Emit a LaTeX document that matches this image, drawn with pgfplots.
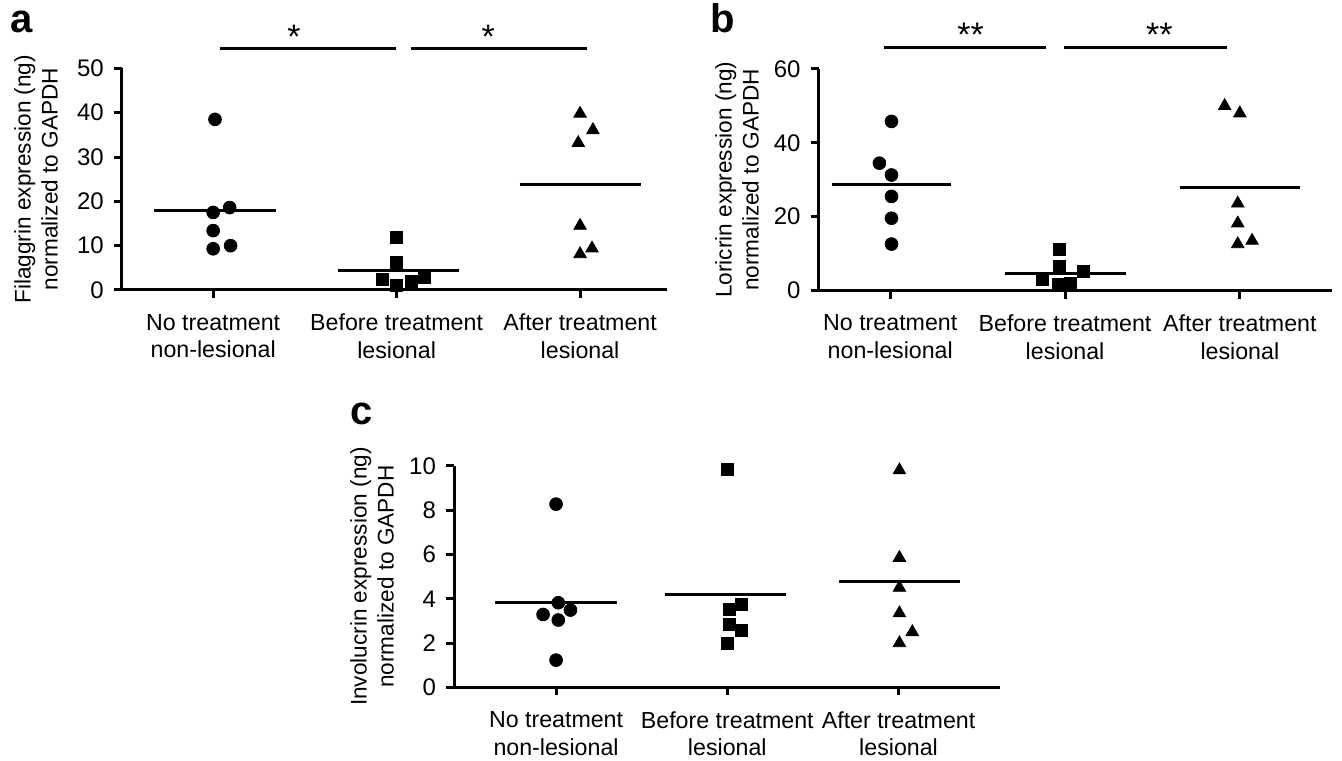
\documentclass[border=0pt]{standalone}
\usepackage{fontspec}
\setmainfont{Liberation Sans}
\usepackage{pgfplots}
\pgfplotsset{compat=1.18}

\pgfplotsset{
  panel/.style={
    scale only axis,
    height=110.8pt,
    axis x line=bottom, axis y line=left,
    axis line style={line width=1.5pt, -},
    x axis line style={shorten <=-3.5pt},
    tick style={line width=1.5pt, black},
    tick align=outside, major tick length=4pt,
    xtick={0,1,2},
    xticklabels={{No treatment\\non-lesional},{Before treatment\\lesional},{After treatment\\lesional}},
    xticklabel style={align=center, font=\fontsize{11.6}{13.8}\selectfont, yshift=-4.5pt},
    yticklabel style={font=\fontsize{12}{13}\selectfont, xshift=-1.5pt},
    ylabel style={align=center, font=\fontsize{11.3}{13.5}\selectfont, anchor=center},
    /pgf/number format/assume math mode=true,
    clip=false,
  },
  grp/.style={only marks, mark=#1, mark options={fill=black, draw=black}},
  mean/.style={line width=1.5pt, black, no marks},
}
\tikzset{sig/.style={anchor=base, inner sep=0, font=\fontsize{17}{17}\selectfont}}

\begin{document}
\begin{tikzpicture}
\path[use as bounding box] (0,0) rectangle (671pt,380pt);

% panel a
\node[anchor=base west, font=\fontsize{20}{20}\selectfont\bfseries, inner sep=0] at (5pt,363.5pt) {a};
\begin{axis}[panel, at={(60.9pt,235pt)}, anchor=south west, width=272.8pt,
    xmin=-0.498, xmax=2.476, ymin=0, ymax=50, ytick={0,10,...,50},
    ylabel={Filaggrin expression (ng)\\normalized to GAPDH},
    ylabel style={at={(axis description cs:-0.157,0.5)}}]
\addplot[grp={*}, mark size=3.2pt] coordinates {(0.01,38.5) (0.09,18.6) (0,17.5) (0,13.4) (0.095,10.0) (0,9.3)};
\addplot[grp={square*}, mark size=3pt] coordinates {(1,11.9) (1,6.3) (0.924,2.3) (1,1.1) (1.078,1.9) (1.15,2.8)};
\addplot[grp={triangle*}, mark size=3.6pt] coordinates {(2,39.8) (2.07,36.1) (1.99,33.2) (2,14.5) (2,8.1) (2.065,9.4)};
\addplot[mean] coordinates {(-0.32,18.0) (0.34,18.0)};
\addplot[mean] coordinates {(0.68,4.3) (1.34,4.3)};
\addplot[mean] coordinates {(1.67,23.7) (2.33,23.7)};
\addplot[mean] coordinates {(0.036,54.4) (0.995,54.4)};
\addplot[mean] coordinates {(1.078,54.4) (2.04,54.4)};
\node[sig] at (axis cs:0.44,54.4) {*};
\node[sig] at (axis cs:1.5,54.4) {*};
\end{axis}

% panel b
\node[anchor=base west, font=\fontsize{20}{20}\selectfont\bfseries, inner sep=0] at (355pt,363.5pt) {b};
\begin{axis}[panel, at={(409.3pt,234.7pt)}, anchor=south west, width=256.5pt,
    xmin=-0.41, xmax=2.525, ymin=0, ymax=60, ytick={0,20,...,60},
    ylabel={Loricrin expression (ng)\\normalized to GAPDH},
    ylabel style={at={(axis description cs:-0.159,0.5)}}]
\addplot[grp={*}, mark size=3.2pt] coordinates {(0.007,45.8) (-0.062,34.5) (0.007,31.3) (0.007,25.5) (0.007,19.6) (0.007,12.6)};
\addplot[grp={square*}, mark size=3pt] coordinates {(0.965,11.2) (0.97,6.5) (1.107,5.1) (0.87,2.9) (0.96,1.7) (1.03,2.0)};
\addplot[grp={triangle*}, mark size=3.6pt] coordinates {(1.913,50.0) (2,48.0) (1.988,23.6) (1.988,18.2) (1.988,12.6) (2.07,13.5)};
\addplot[mean] coordinates {(-0.336,28.6) (0.348,28.6)};
\addplot[mean] coordinates {(0.659,4.7) (1.348,4.7)};
\addplot[mean] coordinates {(1.659,27.9) (2.343,27.9)};
\addplot[mean] coordinates {(-0.037,65.8) (0.89,65.8)};
\addplot[mean] coordinates {(0.995,65.8) (1.928,65.8)};
\node[sig] at (axis cs:0.46,66.0) {**};
\node[sig] at (axis cs:1.54,66.0) {**};
\end{axis}

% panel c
\node[anchor=base west, font=\fontsize{20}{20}\selectfont\bfseries, inner sep=0] at (174.8pt,167.5pt) {c};
\begin{axis}[panel, at={(227pt,36.3pt)}, anchor=south west, width=272.8pt,
    xmin=-0.596, xmax=2.59, ymin=0, ymax=10, ytick={0,2,...,10},
    ylabel={Involucrin expression (ng)\\normalized to GAPDH},
    ylabel style={at={(axis description cs:-0.150,0.5)}}]
\addplot[grp={*}, mark size=3.2pt] coordinates {(0,8.27) (0.013,3.82) (0.084,3.49) (-0.076,3.29) (0.013,3.04) (0,1.23)};
\addplot[grp={square*}, mark size=3pt] coordinates {(1,9.85) (1.08,3.76) (1.01,3.5) (1.01,2.85) (1.08,2.55) (1,2.0)};
\addplot[grp={triangle*}, mark size=3.6pt] coordinates {(2.005,9.8) (2.005,5.85) (2.005,4.5) (2.005,3.35) (2.08,2.5) (2.005,2.0)};
\addplot[mean] coordinates {(-0.355,3.83) (0.355,3.83)};
\addplot[mean] coordinates {(0.635,4.17) (1.34,4.17)};
\addplot[mean] coordinates {(1.65,4.77) (2.36,4.77)};
\end{axis}
\end{tikzpicture}
\end{document}
